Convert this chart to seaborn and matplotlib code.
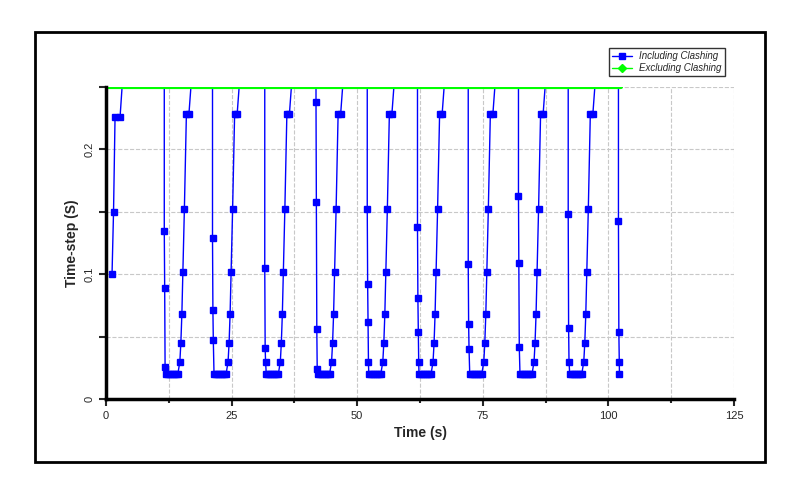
import matplotlib
matplotlib.use("Agg")
import matplotlib.pyplot as plt
import seaborn as sns
import pandas as pd
from matplotlib.patches import Rectangle

sns.set_style("white")
plt.rcParams['font.family'] = ['Liberation Sans', 'DejaVu Sans']

# first ramp
first_x = [1.2, 1.5, 1.8, 2.8, 3.2]
first_y = [0.100, 0.150, 0.226, 0.226, 0.25]
# cycle drop times and values
cycle_start = [11.6, 21.2, 31.6, 41.8, 52.0, 62.0, 72.1, 82.1, 92.0, 102.0]
drop_vals = [
    [0.135, 0.089, 0.026],
    [0.129, 0.071, 0.047],
    [0.105, 0.041, 0.030],
    [0.238, 0.158, 0.056, 0.024],
    [0.152, 0.092, 0.062, 0.030],
    [0.138, 0.081, 0.054, 0.030],
    [0.108, 0.060, 0.040],
    [0.163, 0.109, 0.042],
    [0.148, 0.057, 0.030],
    [0.143, 0.054, 0.030],
]
flat_offsets = [0.3, 0.7, 1.1, 1.5, 1.9, 2.3, 2.7]
flat_val = 0.02
rise_offsets = [3.1, 3.3, 3.5, 3.7, 4.0, 4.4, 4.9]
rise_vals = [0.030, 0.045, 0.068, 0.102, 0.152, 0.228, 0.228]
last_flat_offsets = [0.2]
excl_x = [0, 102.5]
excl_y = [0.25, 0.25]

xs, ys, mk = list(first_x), list(first_y), [True]*4 + [False]
for i, s in enumerate(cycle_start):
    xs.append(s); ys.append(0.25); mk.append(False)
    for j, v in enumerate(drop_vals[i]):
        xs.append(s + 0.08 * j); ys.append(v); mk.append(True)
    last = i == len(cycle_start) - 1
    for o in (last_flat_offsets if last else flat_offsets):
        xs.append(s + o); ys.append(flat_val); mk.append(True)
    if last:
        break
    for o, v in zip(rise_offsets, rise_vals):
        xs.append(s + o); ys.append(v); mk.append(True)
    xs.append(s + 5.3); ys.append(0.25); mk.append(False)
df = pd.DataFrame({"t": xs, "dt": ys, "m": mk})

fig = plt.figure(figsize=(7.88, 4.94), dpi=100)
fig.patches.append(Rectangle((35/788, 32/494), 730/788, 430/494, transform=fig.transFigure,
                             fill=False, lw=2, ec='black'))
ax = fig.add_axes([106/788, 95/494, 628/788, 312/494])
sns.lineplot(data=df, x="t", y="dt", ax=ax, color='#0000ff', lw=1, sort=False, estimator=None)
dm = df[df.m]
ax.plot(dm.t, dm.dt, 's', color='#0000ff', ms=5, ls='none')
ax.plot(excl_x, excl_y, color='#00ff00', lw=3, marker='D', ms=2, markevery=[0])
ax.plot([], [], color='#0000ff', marker='s', ms=5, lw=1, label='Including Clashing')
ax.plot([], [], color='#00ff00', marker='D', ms=4, lw=1, label='Excluding Clashing')
h, l = ax.get_legend_handles_labels()
leg = ax.legend(h[-2:], l[-2:], loc='upper right', bbox_to_anchor=(0.993, 1.14),
                prop={'style': 'italic', 'size': 7}, frameon=True, fancybox=False,
                edgecolor='black', handlelength=2, borderpad=0.3, labelspacing=0.2)
ax.set_xlim(0, 125)
ax.set_ylim(0, 0.25)
ax.set_xticks([0, 25, 50, 75, 100, 125])
ax.set_xticks([12.5, 37.5, 62.5, 87.5, 112.5], minor=True)
ax.set_yticks([0, 0.05, 0.1, 0.15, 0.2, 0.25])
ax.set_yticklabels(['0', '', '0.1', '', '0.2', ''], rotation=90, va='center')
ax.grid(True, which='both', ls='--', color='#c8c8c8', lw=0.8)
ax.tick_params(axis='both', which='both', direction='out', length=5, width=1.5, labelsize=8, left=True, bottom=True)
ax.tick_params(axis='x', which='minor', length=3)
for s in ['top', 'right']:
    ax.spines[s].set_visible(False)
for s in ['left', 'bottom']:
    ax.spines[s].set_linewidth(2.5)
    ax.spines[s].set_color('black')
ax.set_xlabel('Time (s)', fontweight='bold', fontsize=10)
ax.set_ylabel('Time-step (S)', fontweight='bold', fontsize=10)
fig.savefig('out.png', dpi=100)
